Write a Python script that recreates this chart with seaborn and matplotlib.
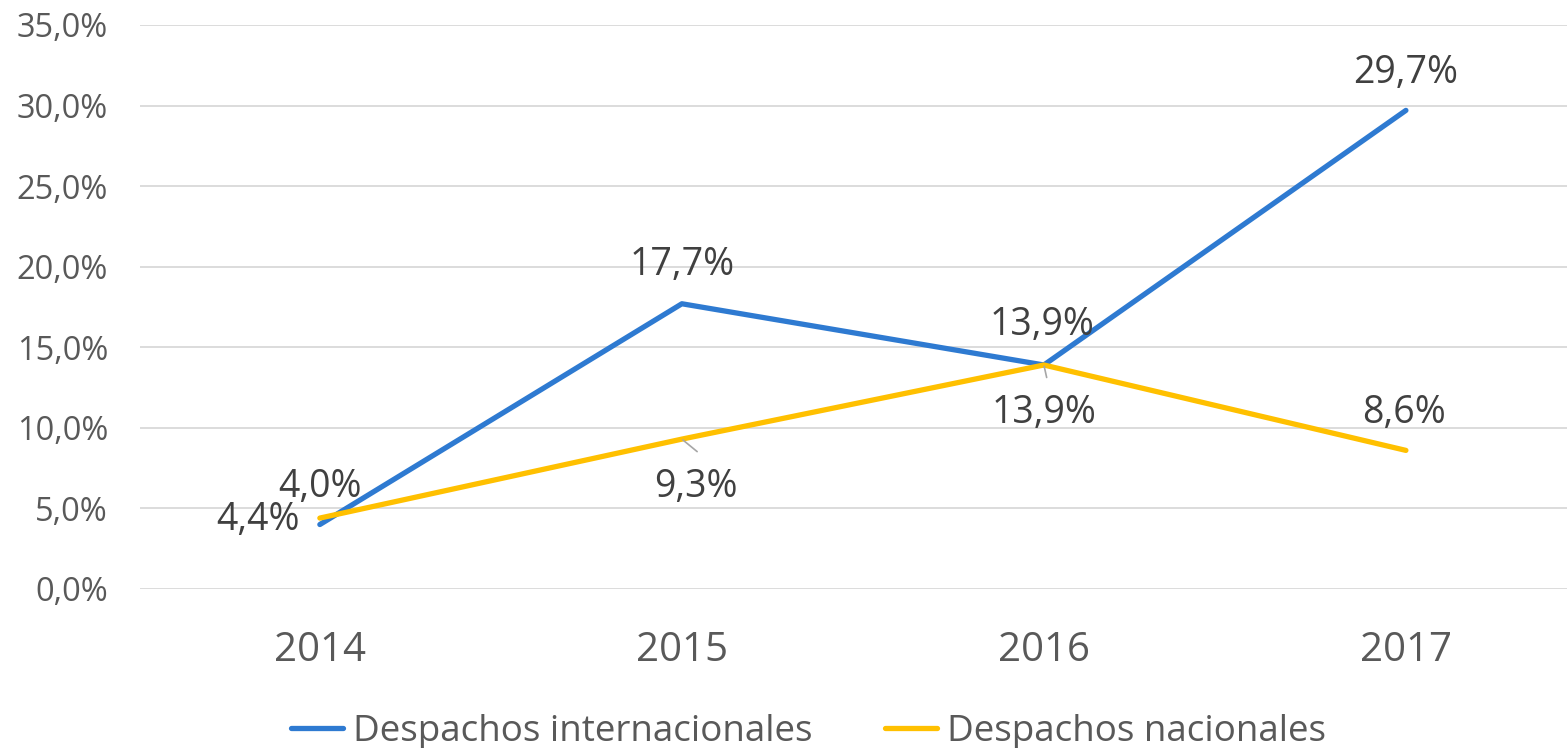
import matplotlib
matplotlib.use("Agg")
import matplotlib.pyplot as plt
import pandas as pd
import seaborn as sns

years = ["2014", "2015", "2016", "2017"]
internacionales = [4.0, 17.7, 13.9, 29.7]
nacionales = [4.4, 9.3, 13.9, 8.6]
series_names = ["Despachos internacionales", "Despachos nacionales"]
y_ticks = [0, 5, 10, 15, 20, 25, 30, 35]

# label offsets in points (dx, dy) relative to each data point, baseline-anchored
intl_offsets = [(0, 20), (0, 21), (-1.5, 21.5), (0, 20)]
nac_offsets = [(-14.5, -8.5), (10, -42), (0, -42), (-1.5, 19.5)]
# leader lines for labels placed below the line
leaders = {("nac", 1): (11, -9), ("nac", 2): (2, -9)}

BLUE = "#2E7AD1"
YELLOW = "#FFC000"
TEXT = "#404040"
TICK = "#595959"

sns.set_theme(style="white")
plt.rcParams["font.family"] = ["Open Sans", "DejaVu Sans"]

df = pd.DataFrame({
    "year": years * 2,
    "x": list(range(len(years))) * 2,
    "value": internacionales + nacionales,
    "serie": [series_names[0]] * 4 + [series_names[1]] * 4,
})

fig = plt.figure(figsize=(15.67, 7.48), dpi=100)
ax = fig.add_axes([0.0893, 0.2126, 1 - 0.0893, 0.9666 - 0.2126])

sns.lineplot(
    data=df, x="x", y="value", hue="serie",
    palette=[BLUE, YELLOW], linewidth=3.8, ax=ax, legend=False,
)
for line in ax.lines:
    line.set_solid_capstyle("round")

ax.set_xlim(-0.497, 3.445)
ax.set_ylim(0, 35)
ax.set_yticks(y_ticks)
ax.set_yticklabels([f"{v:.1f}%".replace(".", ",") for v in y_ticks],
                   fontsize=23.5, color=TICK)
ax.set_xticks(range(len(years)))
ax.set_xticklabels(years, fontsize=29, color=TICK)
ax.tick_params(axis="x", pad=30, length=0)
ax.tick_params(axis="y", pad=23, length=0)
ax.grid(axis="y", color="#d9d9d9", linewidth=1.3)
ax.set_axisbelow(True)
for s in ax.spines.values():
    s.set_visible(False)
ax.set_xlabel("")
ax.set_ylabel("")

def fmt(v):
    return f"{v:.1f}%".replace(".", ",")

for key, vals, offs in [("intl", internacionales, intl_offsets), ("nac", nacionales, nac_offsets)]:
    for i, (v, (dx, dy)) in enumerate(zip(vals, offs)):
        ha = "right" if dx < -5 else "center"
        ax.annotate(fmt(v), xy=(i, v), xytext=(dx, dy), textcoords="offset points",
                    ha=ha, va="baseline", fontsize=27, color=TEXT)
        if (key, i) in leaders:
            lx, ly = leaders[(key, i)]
            ax.annotate("", xy=(i, v), xytext=(lx, ly), textcoords="offset points",
                        arrowprops=dict(arrowstyle="-", color="#a6a6a6", lw=1.2,
                                        shrinkA=0, shrinkB=1))

handles = [plt.Line2D([], [], color=BLUE, linewidth=3.8, solid_capstyle="round"),
           plt.Line2D([], [], color=YELLOW, linewidth=3.8, solid_capstyle="round")]
leg = fig.legend(handles, series_names, loc="center", bbox_to_anchor=(0.516, 0.022),
                 ncol=2, frameon=False, fontsize=26.5, handlelength=1.41,
                 handletextpad=0.27, columnspacing=1.96, borderaxespad=0)
for t in leg.get_texts():
    t.set_color(TICK)

fig.savefig("out.png", dpi=100)
